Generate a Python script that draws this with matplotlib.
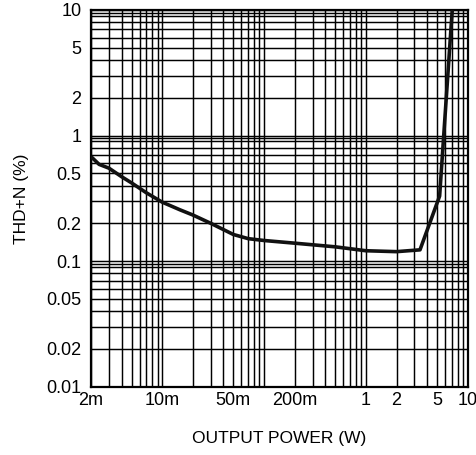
import matplotlib
matplotlib.use("Agg")
import matplotlib.pyplot as plt
from matplotlib.ticker import FixedLocator, LogLocator, NullFormatter, FixedFormatter

plt.rcParams['font.family'] = ['Liberation Sans', 'DejaVu Sans']

# Data
power_w = [0.002, 0.0024, 0.003, 0.004, 0.005, 0.007, 0.010, 0.015, 0.020, 0.030,
           0.050, 0.070, 0.100, 0.200, 0.500, 1.0, 2.0, 3.4, 5.3, 7.05]
thd_pct = [0.68, 0.59, 0.55, 0.47, 0.42, 0.35, 0.295, 0.256, 0.233, 0.20,
           0.163, 0.151, 0.146, 0.139, 0.130, 0.121, 0.119, 0.123, 0.33, 10.0]

x_ticks = [0.002, 0.01, 0.05, 0.2, 1, 2, 5, 10]
x_tick_labels = ["2m", "10m", "50m", "200m", "1", "2", "5", "10"]
y_ticks = [0.01, 0.02, 0.05, 0.1, 0.2, 0.5, 1, 2, 5, 10]
y_tick_labels = ["0.01", "0.02", "0.05", "0.1", "0.2", "0.5", "1", "2", "5", "10"]

fig = plt.figure(figsize=(4.77, 4.55), dpi=100)
ax = fig.add_axes([91/477, 1 - 386.7/455, (467.7 - 91)/477, (386.7 - 10)/455])

ax.set_xscale('log')
ax.set_yscale('log')
ax.set_xlim(0.002, 10)
ax.set_ylim(0.01, 10)

# grid
ax.xaxis.set_major_locator(FixedLocator(x_ticks))
ax.xaxis.set_major_formatter(FixedFormatter(x_tick_labels))
ax.xaxis.set_minor_locator(LogLocator(base=10, subs=[1, 2, 3, 4, 5, 6, 7, 8, 9], numticks=20))
ax.xaxis.set_minor_formatter(NullFormatter())
ax.yaxis.set_major_locator(FixedLocator(y_ticks))
ax.yaxis.set_major_formatter(FixedFormatter(y_tick_labels))
ax.yaxis.set_minor_locator(LogLocator(base=10, subs=[1, 2, 3, 4, 5, 6, 7, 8, 9, 9.5], numticks=20))
ax.yaxis.set_minor_formatter(NullFormatter())

ax.grid(True, which='both', color='black', linewidth=1.05)
ax.set_axisbelow(True)

ax.tick_params(which='both', length=0)
ax.tick_params(axis='y', which='major', pad=7, labelsize=13)
ax.tick_params(axis='x', which='major', pad=4, labelsize=13)

for s in ax.spines.values():
    s.set_linewidth(1.6)
    s.set_color('black')

ax.plot(power_w, thd_pct, color='#111111', linewidth=2.6, solid_joinstyle='round',
        solid_capstyle='butt', zorder=5)

ax.set_xlabel("OUTPUT POWER (W)", fontsize=12.5, labelpad=16)
ax.set_ylabel("THD+N (%)", fontsize=12.5, labelpad=12)

fig.savefig("out.png", dpi=100)
